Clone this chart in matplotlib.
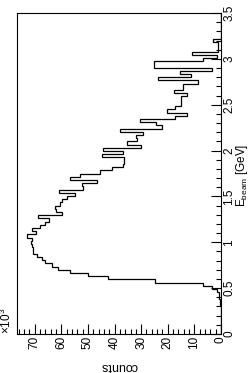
import numpy as np
import matplotlib
matplotlib.use("Agg")
import matplotlib.pyplot as plt
from matplotlib.ticker import MultipleLocator, FuncFormatter

plt.rcParams['font.family'] = ['Liberation Sans', 'DejaVu Sans']
plt.rcParams['mathtext.fontset'] = 'custom'
plt.rcParams['mathtext.rm'] = 'Liberation Sans'
plt.rcParams['mathtext.it'] = 'Liberation Sans:italic'

# histogram: 100 bins from 0 to 3.5 GeV, counts in units of 10^3
e_min, e_max, n_bins = 0.0, 3.5, 100
first_bin = 8
counts_k = [
    0.1, 0.2, 0.4, 0.6, 0.9, 1.6, 3.4, 6.8,            # bins 8-15
    24.8, 42.5, 50.0, 56.8, 61.3, 63.5, 66.2, 67.4,     # 16-23
    69.3, 70.7, 70.7, 71.0, 71.5, 71.2, 73.0, 69.5,     # 24-31
    71.2, 68.0, 66.2, 64.5, 68.7, 59.9, 62.0, 62.5,     # 32-39
    60.5, 59.9, 58.0, 54.9, 60.8, 52.0, 52.3, 46.7,     # 40-47
    56.8, 53.0, 45.5, 41.0, 36.7, 36.5, 36.5, 44.8,     # 48-55
    37.0, 44.2, 30.2, 35.2, 31.5, 32.1, 29.4, 37.8,     # 56-63
    22.3, 24.6, 30.5, 17.3, 12.7, 20.4, 17.3, 15.2,     # 64-71
    15.2, 15.2, 12.9, 17.7, 14.1, 14.1, 8.6, 23.7,      # 72-79
    11.4, 15.4, 3.4, 25.0, 25.0, 6.8, 1.6, 11.0,        # 80-87
    1.1, 1.1, 1.1, 3.0,                                 # 88-91
]

values = np.zeros(n_bins)
values[first_bin:first_bin + len(counts_k)] = counts_k
edges = np.linspace(e_min, e_max, n_bins + 1)

W, H = 249, 373
fig = plt.figure(figsize=(W / 100, H / 100), dpi=100)
ax = fig.add_axes([17 / W, (H - 334) / H, 204 / W, 321 / H])

ax.stairs(values, edges, orientation='horizontal', color='black', lw=0.9)

ax.set_xlim(max(values) * 1.05, 0)
ax.set_ylim(e_min, e_max)

ax.yaxis.tick_right()
ax.xaxis.set_major_locator(MultipleLocator(10))
ax.xaxis.set_minor_locator(MultipleLocator(2))
ax.yaxis.set_major_locator(MultipleLocator(0.5))
ax.yaxis.set_minor_locator(MultipleLocator(0.1))
ax.yaxis.set_major_formatter(FuncFormatter(lambda v, p: '%g' % v))
ax.xaxis.set_major_formatter(FuncFormatter(lambda v, p: '%g' % v))

ax.tick_params(which='both', direction='in', width=0.8, colors='black', labelsize=8.5, pad=1.5)
ax.tick_params(which='major', length=7)
ax.tick_params(which='minor', length=3.5)
ax.tick_params(axis='both', which='both', top=False, left=False)
for lab in ax.get_xticklabels():
    lab.set_rotation(90)
for lab in ax.get_yticklabels():
    lab.set_rotation(90)
    lab.set_va('center')
for s in ax.spines.values():
    s.set_linewidth(0.8)

fig.text(119 / W, 1 - 366 / H, 'counts', rotation=180, ha='center', va='center', fontsize=9)
fig.text(242 / W, 1 - 175 / H, r'E$_{\rm beam}$ [GeV]', rotation=90,
         ha='center', va='center', fontsize=8.5)
fig.text(6.5 / W, 1 - 334 / H, r'$\times$10$^{3}$', rotation=90, ha='center', va='bottom', fontsize=8.5)

fig.savefig('out.png', dpi=100)
